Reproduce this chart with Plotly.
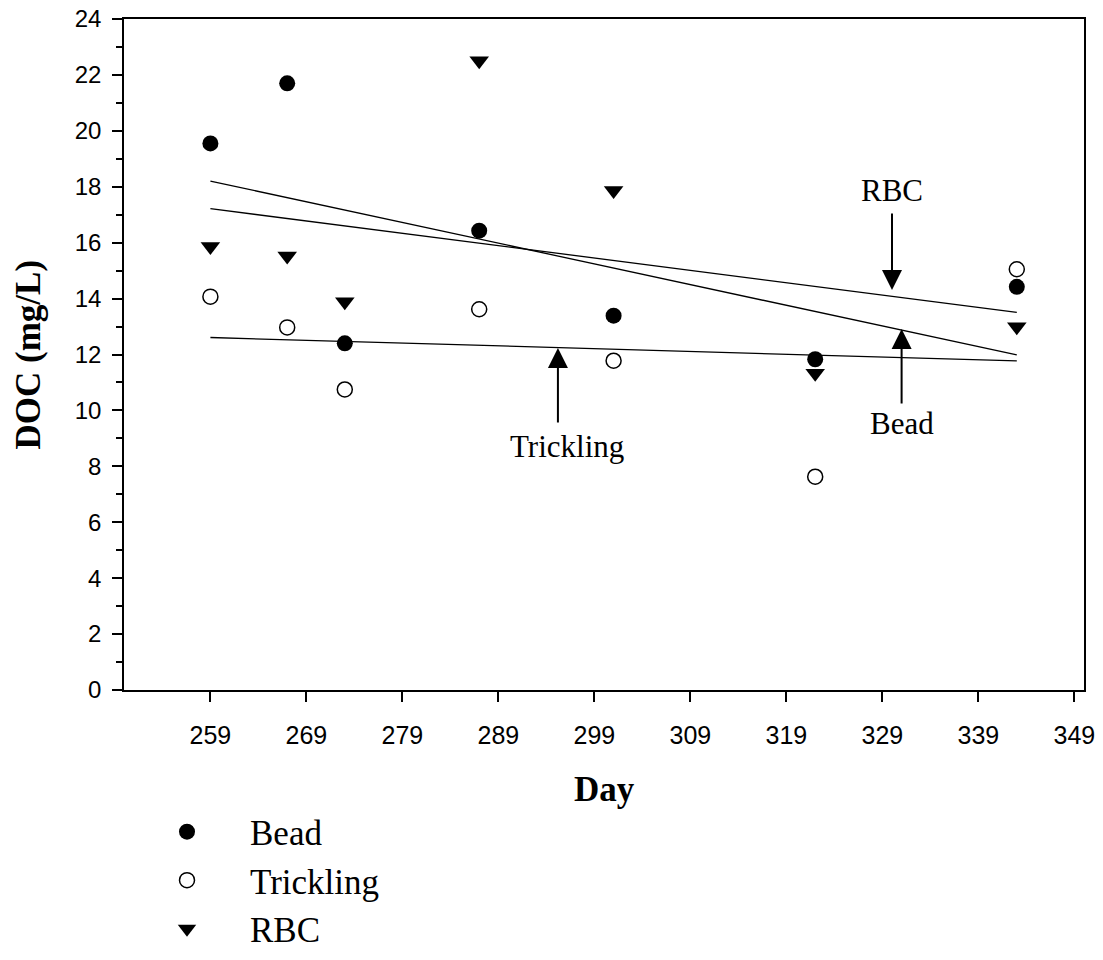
import numpy as np
import plotly.graph_objects as go

# Sampling days and dissolved organic carbon for each reactor
days = [259, 267, 273, 287, 301, 322, 343]
bead = [19.55, 21.70, 12.40, 16.43, 13.39, 11.83, 14.42]
trickling = [14.07, 12.97, 10.75, 13.62, 11.78, 7.63, 15.05]
rbc = [15.86, 15.52, 13.89, 22.51, 17.87, 11.33, 12.99]

x_ticks = [259, 269, 279, 289, 299, 309, 319, 329, 339, 349]

SERIF = "Liberation Serif, Times New Roman, serif"
SANS = "Liberation Sans, Arial, sans-serif"

fig = go.Figure()

series = [
    ("Bead", bead, dict(symbol="circle", size=16, color="black")),
    ("Trickling", trickling, dict(symbol="circle-open", size=15, color="black", line=dict(width=1.5))),
    ("RBC", rbc, dict(symbol="triangle-down", size=17, color="black")),
]

for name, vals, marker in series:
    fig.add_trace(go.Scatter(x=days, y=vals, mode="markers", name=name, marker=marker))

# Least-squares trend line for each reactor
for name, vals, _ in series:
    slope, icpt = np.polyfit(days, vals, 1)
    xs = [days[0], days[-1]]
    fig.add_trace(go.Scatter(
        x=xs, y=[slope * v + icpt for v in xs], mode="lines",
        line=dict(color="black", width=1.3), showlegend=False, hoverinfo="skip"))

# Arrows pointing at the trend lines, with their labels
arrows = [
    # label, arrow x, tip y, tail y, label x, label y
    ("RBC", 330.0, 14.31, 17.10, 330.0, 17.85),
    ("Bead", 331.0, 12.91, 10.19, 331.0, 9.55),
    ("Trickling", 295.2, 12.23, 9.51, 296.1, 8.70),
]
annotations = []
for label, ax_, tip, tail, lx, ly in arrows:
    annotations.append(dict(
        x=ax_, y=tip, ax=ax_, ay=tail, xref="x", yref="y", axref="x", ayref="y",
        text="", showarrow=True, arrowhead=2, arrowsize=2, arrowwidth=2,
        arrowcolor="black"))
    annotations.append(dict(
        x=lx, y=ly, xref="x", yref="y", text=label, showarrow=False,
        xanchor="center", yanchor="middle",
        font=dict(family=SERIF, size=31, color="black")))

# Axis titles
annotations.append(dict(
    x=0.5, y=-0.149, xref="paper", yref="paper", text="<b>Day</b>",
    showarrow=False, xanchor="center", yanchor="middle",
    font=dict(family=SERIF, size=35, color="black")))
annotations.append(dict(
    x=-0.100, y=0.5, xref="paper", yref="paper", text="<b>DOC (mg/L)</b>",
    textangle=-90, showarrow=False, xanchor="center", yanchor="middle",
    font=dict(family=SERIF, size=35, color="black")))

fig.update_layout(
    width=1103, height=960,
    margin=dict(l=124, r=19, t=19, b=270, autoexpand=False),
    plot_bgcolor="white", paper_bgcolor="white",
    annotations=annotations,
    showlegend=True,
    legend=dict(
        x=0.0, y=-0.1675, xanchor="left", yanchor="top",
        font=dict(family=SERIF, size=35, color="black"),
        itemwidth=116, bgcolor="rgba(0,0,0,0)", borderwidth=0,
        tracegroupgap=0,
    ),
)

fig.update_xaxes(
    range=[250, 350], tickvals=x_ticks, ticktext=[str(v) for v in x_ticks],
    ticks="outside", ticklen=10, tickwidth=1.5, tickcolor="black",
    ticklabelstandoff=12,
    showline=True, linecolor="black", linewidth=1.5, mirror=True,
    showgrid=False, zeroline=False,
    tickfont=dict(family=SANS, size=25, color="black"),
)
fig.update_yaxes(
    range=[0, 24], dtick=2, tick0=0,
    ticks="outside", ticklen=10, tickwidth=1.5, tickcolor="black",
    ticklabelstandoff=6,
    minor=dict(dtick=1, ticks="outside", ticklen=6, tickwidth=1.5, tickcolor="black", showgrid=False),
    showline=True, linecolor="black", linewidth=1.5, mirror=True,
    showgrid=False, zeroline=False,
    tickfont=dict(family=SANS, size=24, color="black"),
)

fig.write_html("out.html")
